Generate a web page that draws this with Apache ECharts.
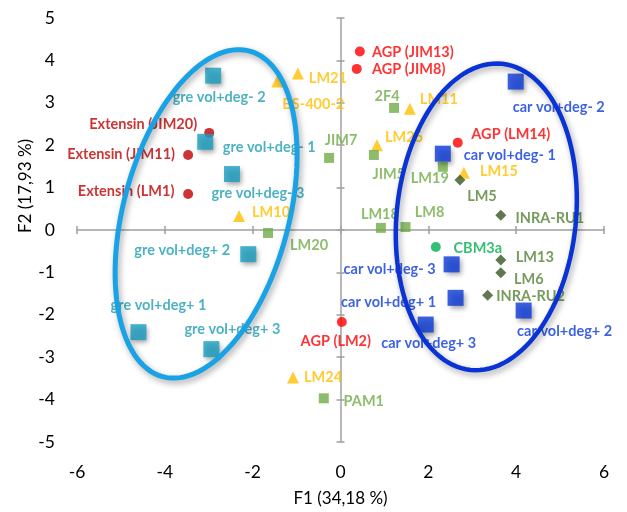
<!DOCTYPE html>
<html>
<head>
<meta charset="utf-8">
<script src="https://cdn.jsdelivr.net/npm/echarts@6/dist/echarts.min.js"></script>
<style>
html,body{margin:0;padding:0;background:#fff;}
#chart{width:627px;height:512px;}
</style>
</head>
<body>
<div id="chart"></div>
<script>
// ---------- data ----------
const xTicks = [-6, -4, -2, 0, 2, 4, 6];
const yTicks = [-5, -4, -3, -2, -1, 0, 1, 2, 3, 4, 5];

const extensinNames = ['Extensin (JIM20)', 'Extensin (JIM11)', 'Extensin (LM1)'];
const extensinX = [-2.99, -3.47, -3.47];
const extensinY = [2.29, 1.77, 0.85];

const agpNames = ['AGP (JIM13)', 'AGP (JIM8)', 'AGP (LM14)', 'AGP (LM2)'];
const agpX = [0.44, 0.37, 2.67, 0.03];
const agpY = [4.21, 3.80, 2.06, -2.17];

const triNames = ['LM21', 'BS-400-2', 'LM10', 'LM11', 'LM26', 'LM15', 'LM24'];
const triX = [-0.97, -1.44, -2.31, 1.58, 0.83, 2.81, -1.08];
const triY = [3.69, 3.50, 0.33, 2.86, 2.00, 1.35, -3.48];

const sqNames = ['JIM7', '2F4', 'JIM5', 'LM19', 'LM18', 'LM8', 'LM20', 'PAM1'];
const sqX = [-0.26, 1.22, 0.76, 2.33, 0.92, 1.48, -1.65, -0.38];
const sqY = [1.70, 2.88, 1.77, 1.49, 0.05, 0.07, -0.07, -3.97];

const cbmNames = ['CBM3a'];
const cbmX = [2.17];
const cbmY = [-0.40];

const diaNames = ['LM5', 'INRA-RU1', 'LM13', 'LM6', 'INRA-RU2'];
const diaX = [2.72, 3.65, 3.65, 3.65, 3.35];
const diaY = [1.18, 0.35, -0.71, -1.01, -1.54];

const greNames = ['gre vol+deg- 2', 'gre vol+deg- 1', 'gre vol+deg- 3', 'gre vol+deg+ 2', 'gre vol+deg+ 1', 'gre vol+deg+ 3'];
const greX = [-2.90, -3.08, -2.47, -2.10, -4.60, -2.94];
const greY = [3.64, 2.08, 1.32, -0.57, -2.41, -2.81];

const carNames = ['car vol+deg- 2', 'car vol+deg- 1', 'car vol+deg- 3', 'car vol+deg+ 1', 'car vol+deg+ 3', 'car vol+deg+ 2'];
const carX = [3.99, 2.33, 2.53, 2.62, 1.94, 4.17];
const carY = [3.50, 1.80, -0.81, -1.60, -2.23, -1.90];

// ellipses in data units: centre x, centre y, half-axis A (dx, dy), half-axis B (dx, dy)
const ellipseGre = [-3.06, 0.38, 0.99, 3.84, 1.82, -0.51];
const ellipseCar = [3.32, 0.31, 0.36, 3.61, 2.03, -0.22];

// ---------- label placement (pixels, label centre relative to marker) ----------
const labelOffsets = {
  'Extensin (JIM20)': [-66, -9], 'Extensin (JIM11)': [-67, -1], 'Extensin (LM1)': [-62, -3],
  'AGP (JIM13)': [53, 1], 'AGP (JIM8)': [52, 0], 'AGP (LM14)': [53, -8], 'AGP (LM2)': [-6, 19],
  'LM21': [30, 5], 'BS-400-2': [36, 23], 'LM10': [32, -4], 'LM11': [29, -9], 'LM26': [27, -8],
  'LM15': [35, -1], 'LM24': [30, 0],
  'JIM7': [12, -18], '2F4': [-7, -12], 'JIM5': [15, 19], 'LM19': [-13, 12], 'LM18': [-1, -14],
  'LM8': [24, -15], 'LM20': [41, 12], 'PAM1': [40, 3],
  'CBM3a': [42, 1],
  'LM5': [22, 16], 'INRA-RU1': [49, 3], 'LM13': [34, -3], 'LM6': [28, 7], 'INRA-RU2': [43, 1],
  'gre vol+deg- 2': [6, 22], 'gre vol+deg- 1': [64, 6], 'gre vol+deg- 3': [26, 19],
  'gre vol+deg+ 2': [-66, -4], 'gre vol+deg+ 1': [20, -27], 'gre vol+deg+ 3': [21, -20],
  'car vol+deg- 2': [43, 26], 'car vol+deg- 1': [67, 2], 'car vol+deg- 3': [-62, 5],
  'car vol+deg+ 1': [-67, 4], 'car vol+deg+ 3': [3, 19], 'car vol+deg+ 2': [41, 21]
};

const FONT = 'Lato, "Open Sans", sans-serif';
const AXIS_COLOR = '#a0a0a0';

function makeSeries(names, xs, ys, o) {
  return {
    type: 'scatter',
    xAxisIndex: 0, yAxisIndex: 0,
    symbol: o.symbol,
    symbolSize: o.size,
    z: o.z || 2,
    itemStyle: Object.assign({ color: o.color }, o.shadow ? {
      shadowBlur: 5, shadowColor: 'rgba(0,0,0,0.45)', shadowOffsetX: 2, shadowOffsetY: 3
    } : {}),
    label: {
      show: true, position: 'inside', formatter: '{b}',
      color: o.labelColor || o.color, fontWeight: 'bold', fontSize: 14.5, fontFamily: FONT
    },
    emphasis: { disabled: true },
    data: names.map((n, i) => ({
      name: n, value: [xs[i], ys[i]],
      label: { offset: labelOffsets[n] || [0, 0] }
    }))
  };
}

const ellipseColors = ['#19a2e6', '#0a33d6'];
const ellipseWidths = [5, 4.5];

const chart = echarts.init(document.getElementById('chart'), null, { renderer: 'canvas' });

const axisCommonX = { type: 'value', min: -6, max: 6, interval: 2, splitLine: { show: false } };
const axisCommonY = { type: 'value', min: -5, max: 5, interval: 1, splitLine: { show: false } };
const zeroLine = { show: true, onZero: true, lineStyle: { color: AXIS_COLOR, width: 1.5 } };
const tickOut = { show: true, length: 4, inside: false, lineStyle: { color: AXIS_COLOR, width: 1.5 } };
const tickIn = { show: true, length: 4, inside: true, lineStyle: { color: AXIS_COLOR, width: 1.5 } };

chart.setOption({
  animation: false,
  backgroundColor: '#ffffff',
  grid: { left: 77, top: 18, width: 527, height: 424, containLabel: false, outerBoundsMode: 'none' },
  xAxis: [
    Object.assign({}, axisCommonX, {
      position: 'bottom',
      axisLine: { show: false, onZero: false },
      axisTick: { show: false },
      axisLabel: {
        show: true, margin: 21, color: '#000', fontSize: 17.5, fontFamily: FONT,
        formatter: v => (xTicks.indexOf(v) >= 0 ? String(v) : '')
      },
      name: 'F1 (34,18 %)', nameLocation: 'middle', nameGap: 48,
      nameTextStyle: { color: '#000', fontSize: 17, fontFamily: FONT }
    }),
    Object.assign({}, axisCommonX, {
      position: 'top', axisLine: zeroLine, axisTick: tickOut, axisLabel: { show: false }
    }),
    Object.assign({}, axisCommonX, {
      position: 'top', axisLine: { show: false, onZero: true }, axisTick: tickIn, axisLabel: { show: false }
    })
  ],
  yAxis: [
    Object.assign({}, axisCommonY, {
      position: 'left',
      axisLine: { show: false, onZero: false },
      axisTick: { show: false },
      axisLabel: {
        show: true, margin: 22, color: '#000', fontSize: 17.5, fontFamily: FONT,
        formatter: v => (yTicks.indexOf(v) >= 0 ? String(v) : '')
      }
    }),
    Object.assign({}, axisCommonY, {
      position: 'right', axisLine: zeroLine, axisTick: tickOut, axisLabel: { show: false }
    }),
    Object.assign({}, axisCommonY, {
      position: 'right', axisLine: { show: false, onZero: true }, axisTick: tickIn, axisLabel: { show: false }
    })
  ],
  graphic: [{
    type: 'text', x: 26, y: 186, rotation: Math.PI / 2,
    style: { text: 'F2 (17,93 %)', fill: '#000', fontSize: 17, fontFamily: FONT, align: 'center', verticalAlign: 'middle' }
  }],
  series: [
    makeSeries(extensinNames, extensinX, extensinY, { symbol: 'circle', size: 10, color: '#c00000' }),
    makeSeries(agpNames, agpX, agpY, { symbol: 'circle', size: 10, color: '#ff0000' }),
    makeSeries(triNames, triX, triY, { symbol: 'triangle', size: 12, color: '#ffc000' }),
    makeSeries(sqNames, sqX, sqY, { symbol: 'rect', size: 10, color: '#70ad47' }),
    makeSeries(cbmNames, cbmX, cbmY, { symbol: 'circle', size: 10, color: '#00b050' }),
    makeSeries(diaNames, diaX, diaY, { symbol: 'diamond', size: 11, color: '#375623', labelColor: '#548235' }),
    makeSeries(greNames, greX, greY, { symbol: 'rect', size: 16, color: '#1a9dc2', labelColor: '#1f9fb3', shadow: true, z: 3 }),
    makeSeries(carNames, carX, carY, { symbol: 'rect', size: 16, color: '#0b3bdb', shadow: true, z: 3 }),
    {
      type: 'custom',
      xAxisIndex: 0, yAxisIndex: 0,
      z: 5,
      clip: false,
      silent: true,
      data: [ellipseGre, ellipseCar],
      renderItem: function (params, api) {
        const cx = api.value(0), cy = api.value(1);
        const ax = api.value(2), ay = api.value(3), bx = api.value(4), by = api.value(5);
        const pts = [];
        for (let k = 0; k < 120; k++) {
          const t = (k / 120) * Math.PI * 2;
          pts.push(api.coord([cx + Math.cos(t) * ax + Math.sin(t) * bx, cy + Math.cos(t) * ay + Math.sin(t) * by]));
        }
        return {
          type: 'polygon',
          shape: { points: pts },
          style: {
            fill: 'none', stroke: ellipseColors[params.dataIndex], lineWidth: ellipseWidths[params.dataIndex],
            shadowBlur: 6, shadowColor: 'rgba(0,0,0,0.35)', shadowOffsetX: 2, shadowOffsetY: 3
          }
        };
      }
    }
  ]
});
</script>
</body>
</html>
